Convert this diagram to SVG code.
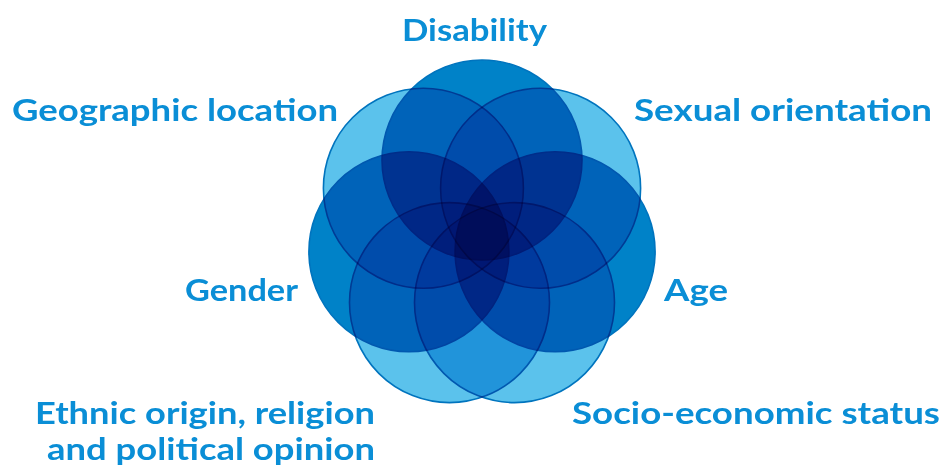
<svg xmlns="http://www.w3.org/2000/svg" width="942" height="473" viewBox="0 0 942 473">
<style>
.c{mix-blend-mode:multiply;stroke:#0074BE;stroke-width:1.6}
.d{fill:#0082C8}
.l{fill:#5BC2EC}
.t{font-family:Lato,"Open Sans","Liberation Sans",sans-serif;font-weight:700;font-size:31px;fill:#0A8ED6}
.s{font-size:29.5px}
</style>
<rect width="942" height="473" fill="#ffffff"/>
<g id="circles" style="isolation:isolate">
<circle id="disability" class="c d" cx="482" cy="160" r="100"/>
<circle id="sexual-orientation" class="c l" cx="540.6" cy="188.2" r="100"/>
<circle id="age" class="c d" cx="555.1" cy="251.7" r="100"/>
<circle id="socio-economic" class="c l" cx="514.5" cy="302.6" r="100"/>
<circle id="ethnic" class="c l" cx="449.5" cy="302.6" r="100"/>
<circle id="gender" class="c d" cx="408.9" cy="251.7" r="100"/>
<circle id="geographic" class="c l" cx="423.4" cy="188.2" r="100"/>
</g>
<g id="labels">
<text class="t" x="474.5" y="41" text-anchor="middle" textLength="145" lengthAdjust="spacingAndGlyphs">Disability</text>
<text class="t" x="338" y="121" text-anchor="end" textLength="326" lengthAdjust="spacingAndGlyphs">Geographic location</text>
<text class="t" x="634" y="121" textLength="298" lengthAdjust="spacingAndGlyphs">Sexual orientation</text>
<text class="t" x="298" y="301" text-anchor="end" textLength="113" lengthAdjust="spacingAndGlyphs">Gender</text>
<text class="t" x="664" y="301" textLength="64" lengthAdjust="spacingAndGlyphs">Age</text>
<text class="t s" x="375" y="424" text-anchor="end" textLength="340" lengthAdjust="spacingAndGlyphs">Ethnic origin, religion</text>
<text class="t s" x="375" y="460" text-anchor="end" textLength="328" lengthAdjust="spacingAndGlyphs">and political opinion</text>
<text class="t" x="572" y="424" textLength="368" lengthAdjust="spacingAndGlyphs">Socio-economic status</text>
</g>
</svg>
